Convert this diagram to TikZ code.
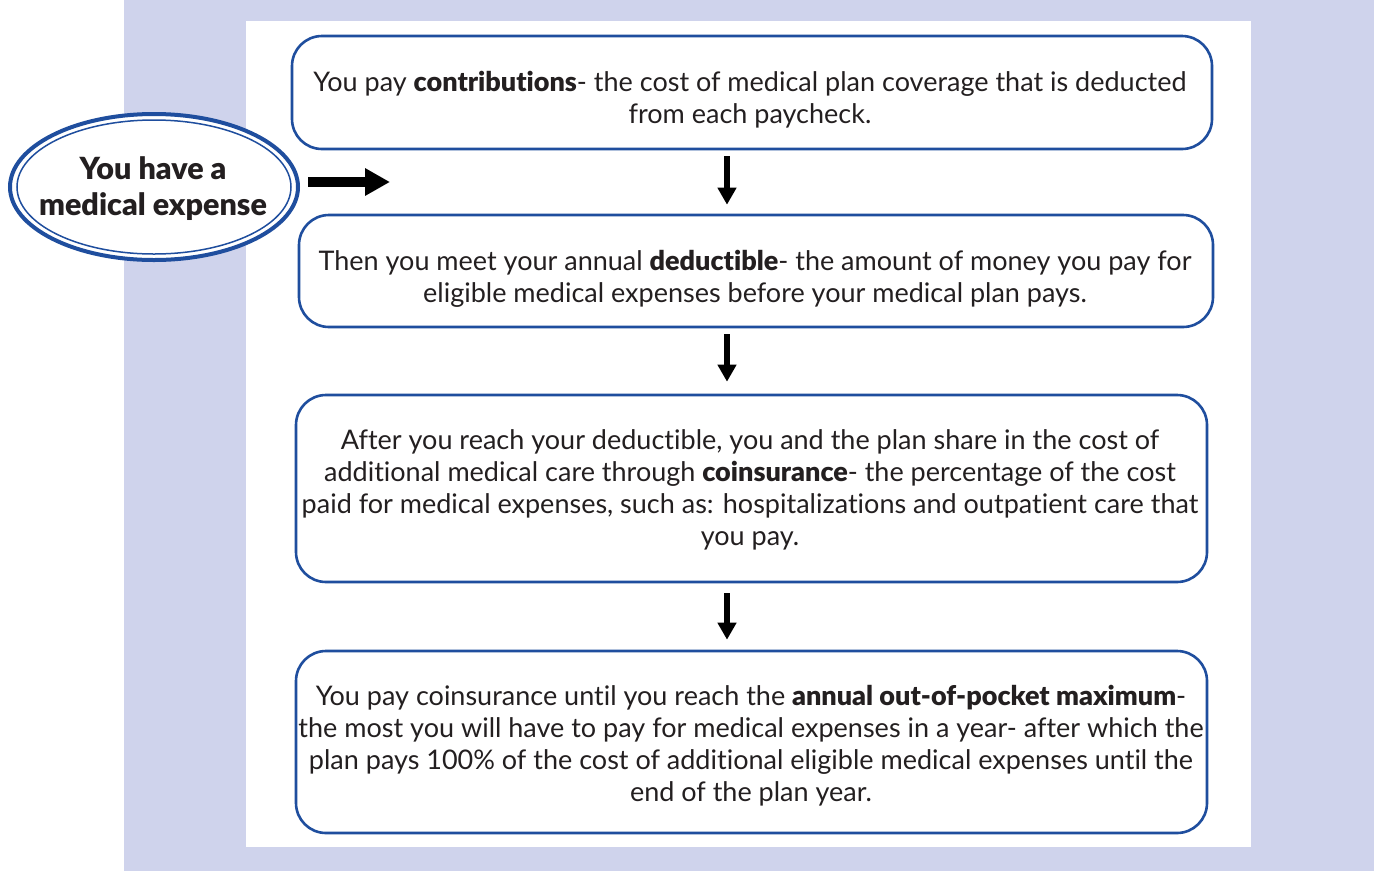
\documentclass[tikz,border=0pt]{standalone}
\usepackage{fontspec}
\setmainfont{Lato}[BoldFont={Lato Black}, Ligatures=NoCommon]
\usetikzlibrary{arrows.meta,shapes.geometric}
\definecolor{lav}{HTML}{CFD3EC}
\definecolor{bblue}{HTML}{1F4E9E}
\definecolor{txt}{HTML}{231F20}
\tikzset{
  box/.style={draw=bblue, line width=2.6pt, rounded corners=30pt, fill=white, inner sep=0pt},
  boxtext/.style={align=center, text=txt, font=\fontsize{27}{32}\selectfont, inner sep=0pt},
  darr/.style={draw=black, line width=5.5pt, -{Triangle[width=18pt,length=17pt]}},
  rarr/.style={draw=black, line width=9.5pt, -{Triangle[width=26pt,length=25pt]}},
}
\begin{document}
\begin{tikzpicture}[x=1pt,y=-1pt]
\useasboundingbox (0,0) rectangle (1374,871);
\fill[lav] (124,0) rectangle (1374,871);
\fill[white] (246,21) rectangle (1251,847);
% boxes
\node[box, minimum width=920, minimum height=113] (b1) at (752,92.5) {};
\node[box, minimum width=914, minimum height=112] (b2) at (756,271) {};
\node[box, minimum width=911, minimum height=187] (b3) at (751.5,488.5) {};
\node[box, minimum width=911, minimum height=182] (b4) at (751.5,742) {};
\node[boxtext] (t1) at (750,100) {You pay \textbf{contributions}- the cost of medical plan coverage that is deducted\\from each paycheck.};
\node[boxtext] (t2) at (755,279) {Then you meet your annual \textbf{deductible}- the amount of money you pay for\\eligible medical expenses before your medical plan pays.};
\node[boxtext] (t3) at (750,490) {After you reach your deductible, you and the plan share in the cost of\\additional medical care through \textbf{coinsurance}- the percentage of the cost\\paid for medical expenses, such as: hospitalizations and outpatient care that\\you pay.};
\node[boxtext] (t4) at (751,746) {You pay coinsurance until you reach the \textbf{annual out-of-pocket maximum}-\\the most you will have to pay for medical expenses in a year- after which the\\plan pays 100\% of the cost of additional eligible medical expenses until the\\end of the plan year.};
% ellipse
\node[ellipse, draw=bblue, line width=4pt, fill=white, minimum width=288, minimum height=146, inner sep=0pt] (e) at (154,187) {};
\draw[bblue, line width=1.5pt] (e.center) ellipse [x radius=137, y radius=67];
\node[align=center, text=txt, font=\fontsize{30.5}{36}\selectfont\bfseries, inner sep=0pt] (et) at (153,189) {You have a\\medical expense};
% arrows
\coordinate (ax) at (727,0);
\draw[darr, shorten <=6pt, shorten >=9pt] (b1.south -| ax) -- (b2.north -| ax);
\draw[darr, shorten <=6pt, shorten >=12pt] (b2.south -| ax) -- (b3.north -| ax);
\draw[darr, shorten <=10pt, shorten >=10pt] (b3.south -| ax) -- (b4.north -| ax);
\coordinate (rend) at (390,182);
\draw[rarr, shorten <=8pt] ([yshift=5pt]e.east) -- (rend);
\end{tikzpicture}
\end{document}
